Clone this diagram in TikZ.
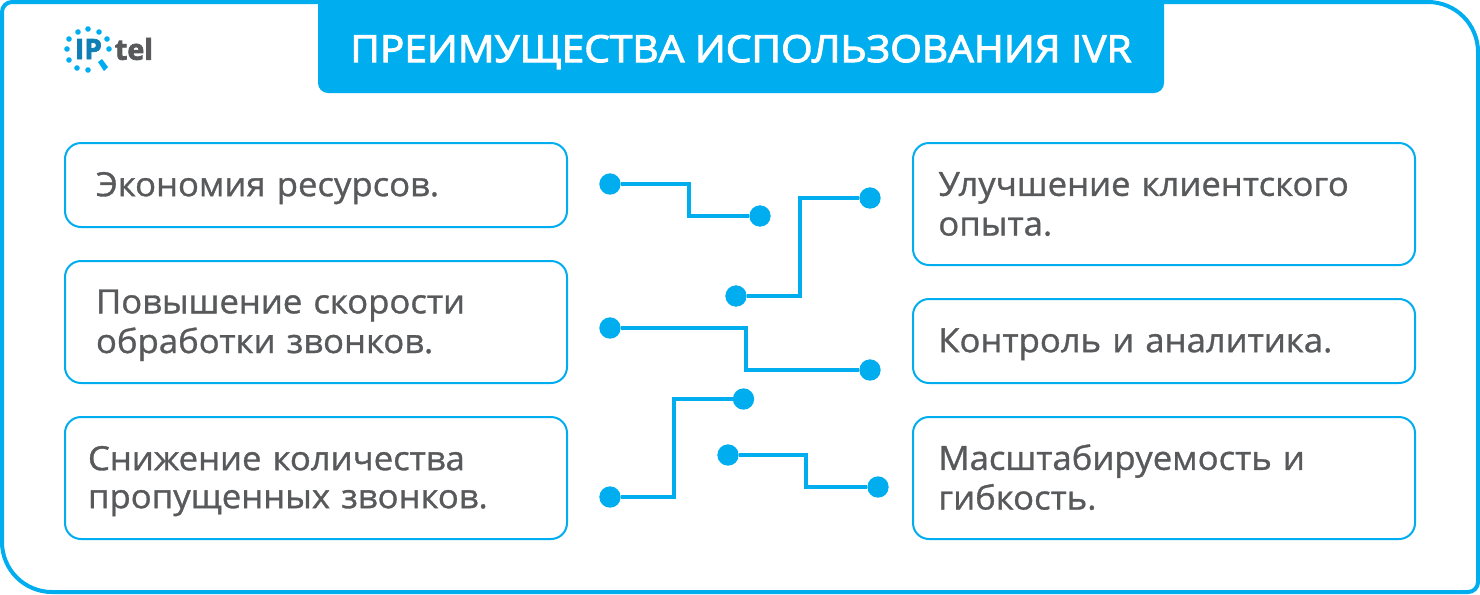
\documentclass[tikz,border=0pt]{standalone}
\usepackage{fontspec}
\setmainfont{Open Sans}[FakeStretch=1.04,FakeBold=1]
\newfontfamily\titlefont{Open Sans}[FakeStretch=1.0876,FakeBold=2.8]
\newfontfamily\logofont{Open Sans}[BoldFeatures={FakeBold=2.5}]
\definecolor{skyb}{HTML}{00AEEF}
\definecolor{greytxt}{HTML}{58595B}
\definecolor{logob}{HTML}{0F7FB5}
\newcommand{\cardst}{\rule[-5.25pt]{0pt}{28pt}}
\tikzset{
  x=0.75pt,y=-0.75pt,
  card/.style={draw=skyb,line width=1.5pt,rounded corners=12pt,fill=white,minimum height=#1*0.75pt,align=left,anchor=north west,
     text=greytxt,font=\fontsize{25}{28.5}\selectfont,outer sep=0pt,inner ysep=0pt,
     execute at begin node=\cardst,execute at end node=\cardst},
  dotn/.style={circle,fill=skyb,minimum size=16pt,inner sep=0pt,outer sep=0pt},
  link/.style={draw=skyb,line width=2.5pt},
  frameline/.style={draw=skyb,line width=3pt},
  logodot/.style={circle,fill=skyb,minimum size=4.2pt,inner sep=0pt},
}
\begin{document}
\begin{tikzpicture}
\useasboundingbox (0,0) rectangle (1480,594);
% outer frame
\draw[frameline] (2,12) arc[start angle=180,end angle=90,radius=7.5pt] -- (1428,2)
  arc[start angle=90,end angle=0,radius=37.5pt] -- (1478,582)
  arc[start angle=0,end angle=-90,radius=7.5pt] -- (52,592)
  arc[start angle=270,end angle=180,radius=37.5pt] -- cycle;
% title banner
\fill[skyb] (318,0) -- (1164,0) -- (1164,83) arc[start angle=0,end angle=90,radius=7.5pt,y radius=-7.5pt] -- (328,93)
  arc[start angle=90,end angle=180,radius=7.5pt,y radius=-7.5pt] -- cycle;
\node[text=white,font=\titlefont\fontsize{28}{30}\selectfont] (title) at (741,52) {ПРЕИМУЩЕСТВА ИСПОЛЬЗОВАНИЯ IVR};
% logo
\foreach \i/\p in {a/{88,29},b/{99,32},c/{107,39},d/{109,49},e/{78,32},f/{69,39},g/{67,49},h/{69,60},j/{77,68},k/{88,70}}
  \node[logodot] (ld\i) at (\p) {};
\fill[skyb] (98,62) -- (102,59) -- (108,67) -- (104,71) -- cycle;
\node[text=logob,font=\logofont\bfseries\fontsize{21}{22}\selectfont,inner sep=0pt] (logoip) at (88.5,49) {IP};
\node[text=greytxt,font=\logofont\bfseries\fontsize{21.5}{22}\selectfont,inner sep=0pt] (logotel) at (134,49) {tel};
% cards left
\node[card=84,inner xsep=23.25pt,text width=330pt] (c1) at (65,143) {Экономия ресурсов.};
\node[card=122,inner xsep=23.25pt,text width=330pt] (c2) at (65,261) {Повышение скорости\\обработки звонков.};
\node[card=122,inner xsep=17.25pt,text width=342pt] (c3) at (65,417) {Снижение количества\\пропущенных звонков.};
% cards right
\node[card=122,inner xsep=19pt,text width=338.5pt] (c4) at (913,143) {Улучшение клиентского\\опыта.};
\node[card=84,inner xsep=19pt,text width=338.5pt] (c5) at (913,299) {Контроль и аналитика.};
\node[card=122,inner xsep=19pt,text width=338.5pt] (c6) at (913,417) {Масштабируемость и\\гибкость.};
% dots
\node[dotn] (d1) at (610,184) {};
\node[dotn] (d2) at (760,216) {};
\node[dotn] (d3) at (870,198) {};
\node[dotn] (d4) at (736,296) {};
\node[dotn] (d5) at (610,328) {};
\node[dotn] (d6) at (870,370) {};
\node[dotn] (d7) at (743.5,399) {};
\node[dotn] (d8) at (610,497) {};
\node[dotn] (d9) at (728,455) {};
\node[dotn] (d10) at (878,487) {};
% bends
\coordinate (b1) at (689,216);
\coordinate (b2) at (800,198);
\coordinate (b3) at (746,370);
\coordinate (b4) at (674,399);
\coordinate (b5) at (806,487);
\draw[link] (d1) -| (b1) -- (d2);
\draw[link] (d4) -| (b2) -- (d3);
\draw[link] (d5) -| (b3) -- (d6);
\draw[link] (d8) -| (b4) -- (d7);
\draw[link] (d9) -| (b5) -- (d10);
\end{tikzpicture}
\end{document}
